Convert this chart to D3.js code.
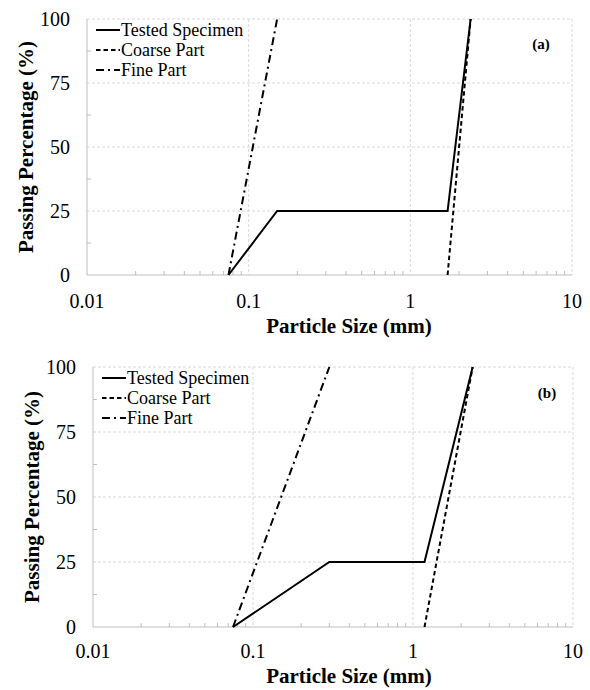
<!DOCTYPE html>
<html>
<head>
<meta charset="utf-8">
<script src="https://cdn.jsdelivr.net/npm/d3@7.9.0/dist/d3.min.js"></script>
<style>
  body { margin: 0; background: #fff; }
  svg { display: block; }
  svg text { font-family: 'Liberation Serif', 'Times New Roman', Tinos; }
</style>
</head>
<body>
<svg id="chart" width="590" height="690"></svg>
<script>
// tick values
const xTicks = [0.01, 0.1, 1, 10];
const yTicks = [0, 25, 50, 75, 100];
const seriesNames = ['Tested Specimen', 'Coarse Part', 'Fine Part'];

// panel (a): [size mm, passing %]
const testedA = [[0.075, 0], [0.15, 25], [1.7, 25], [2.36, 100]];
const coarseA = [[1.7, 0], [2.36, 100]];
const fineA = [[0.075, 0], [0.15, 100]];

// panel (b)
const testedB = [[0.075, 0], [0.3, 25], [1.18, 25], [2.36, 100]];
const coarseB = [[1.18, 0], [2.36, 100]];
const fineB = [[0.075, 0], [0.3, 100]];

const dashes = [null, '4.5,3', '8,4,2,4'];
const svg = d3.select('#chart');

function drawPanel(box, series, tag) {
  const g = svg.append('g');
  const x = d3.scaleLog().domain([0.01, 10]).range([box.left, box.right]);
  const y = d3.scaleLinear().domain([0, 100]).range([box.bottom, box.top]);

  // gridlines (dashed, light)
  g.selectAll('.gx').data(xTicks.slice(1)).join('line')
    .attr('x1', d => x(d)).attr('x2', d => x(d))
    .attr('y1', box.top).attr('y2', box.bottom)
    .attr('stroke', '#d9d9d9').attr('stroke-dasharray', '3,2');
  g.selectAll('.gy').data(yTicks.slice(1)).join('line')
    .attr('x1', box.left).attr('x2', box.right)
    .attr('y1', d => y(d)).attr('y2', d => y(d))
    .attr('stroke', '#d9d9d9').attr('stroke-dasharray', '3,2');

  // minor ticks
  const minorX = x.ticks().filter(v => !xTicks.includes(v));
  g.selectAll('.mx').data(minorX).join('line')
    .attr('x1', d => x(d)).attr('x2', d => x(d))
    .attr('y1', box.bottom).attr('y2', box.bottom - 4)
    .attr('stroke', '#bfbfbf');
  const minorY = [12.5, 37.5, 62.5, 87.5];
  g.selectAll('.my').data(minorY).join('line')
    .attr('x1', box.left).attr('x2', box.left + 4)
    .attr('y1', d => y(d)).attr('y2', d => y(d))
    .attr('stroke', '#bfbfbf');

  // axes lines
  g.append('line').attr('x1', box.left).attr('x2', box.right)
    .attr('y1', box.bottom).attr('y2', box.bottom).attr('stroke', '#bfbfbf');
  g.append('line').attr('x1', box.left).attr('x2', box.left)
    .attr('y1', box.top).attr('y2', box.bottom).attr('stroke', '#bfbfbf');

  // tick labels
  g.selectAll('.tx').data(xTicks).join('text')
    .attr('x', d => x(d)).attr('y', box.bottom + box.tickGap)
    .attr('text-anchor', 'middle').style('font-size', '20px')
    .text(d => d);
  g.selectAll('.ty').data(yTicks).join('text')
    .attr('x', box.left - 17).attr('y', d => y(d) + 6.5)
    .attr('text-anchor', 'end').style('font-size', '20px')
    .text(d => d);

  // axis titles
  g.append('text')
    .attr('x', 349).attr('y', box.bottom + box.tickGap + 25)
    .attr('text-anchor', 'middle').style('font-size', '21px').style('font-weight', 'bold')
    .text('Particle Size (mm)');
  g.append('text')
    .attr('transform', `translate(${box.left - 54},${(box.top + box.bottom) / 2}) rotate(-90)`)
    .attr('text-anchor', 'middle').style('font-size', '21px').style('font-weight', 'bold')
    .text('Passing Percentage (%)');

  // lines
  const line = d3.line().x(d => x(d[0])).y(d => y(d[1]));
  g.selectAll('.series').data(series).join('path')
    .attr('d', d => line(d))
    .attr('fill', 'none').attr('stroke', '#000').attr('stroke-width', 2)
    .attr('stroke-dasharray', (d, i) => dashes[i]);

  // legend
  const leg = g.selectAll('.leg').data(seriesNames).join('g')
    .attr('transform', (d, i) => `translate(${box.left + 9},${box.top + 11 + i * 20})`);
  leg.append('line').attr('x1', 0).attr('x2', 24)
    .attr('stroke', '#000').attr('stroke-width', 2)
    .attr('stroke-dasharray', (d, i) => dashes[i]);
  leg.append('text').attr('x', 25).attr('y', 5.5)
    .style('font-size', '18px').text(d => d);

  // panel tag
  g.append('text').attr('x', tag.x).attr('y', tag.y)
    .attr('text-anchor', 'middle').style('font-size', '15px').style('font-weight', 'bold')
    .text(tag.label);
}

drawPanel({ left: 87, right: 572, top: 19, bottom: 275, tickGap: 33 },
  [testedA, coarseA, fineA], { x: 541, y: 49, label: '(a)' });
drawPanel({ left: 93, right: 573, top: 367, bottom: 627, tickGap: 31 },
  [testedB, coarseB, fineB], { x: 547, y: 398, label: '(b)' });
</script>
</body>
</html>
